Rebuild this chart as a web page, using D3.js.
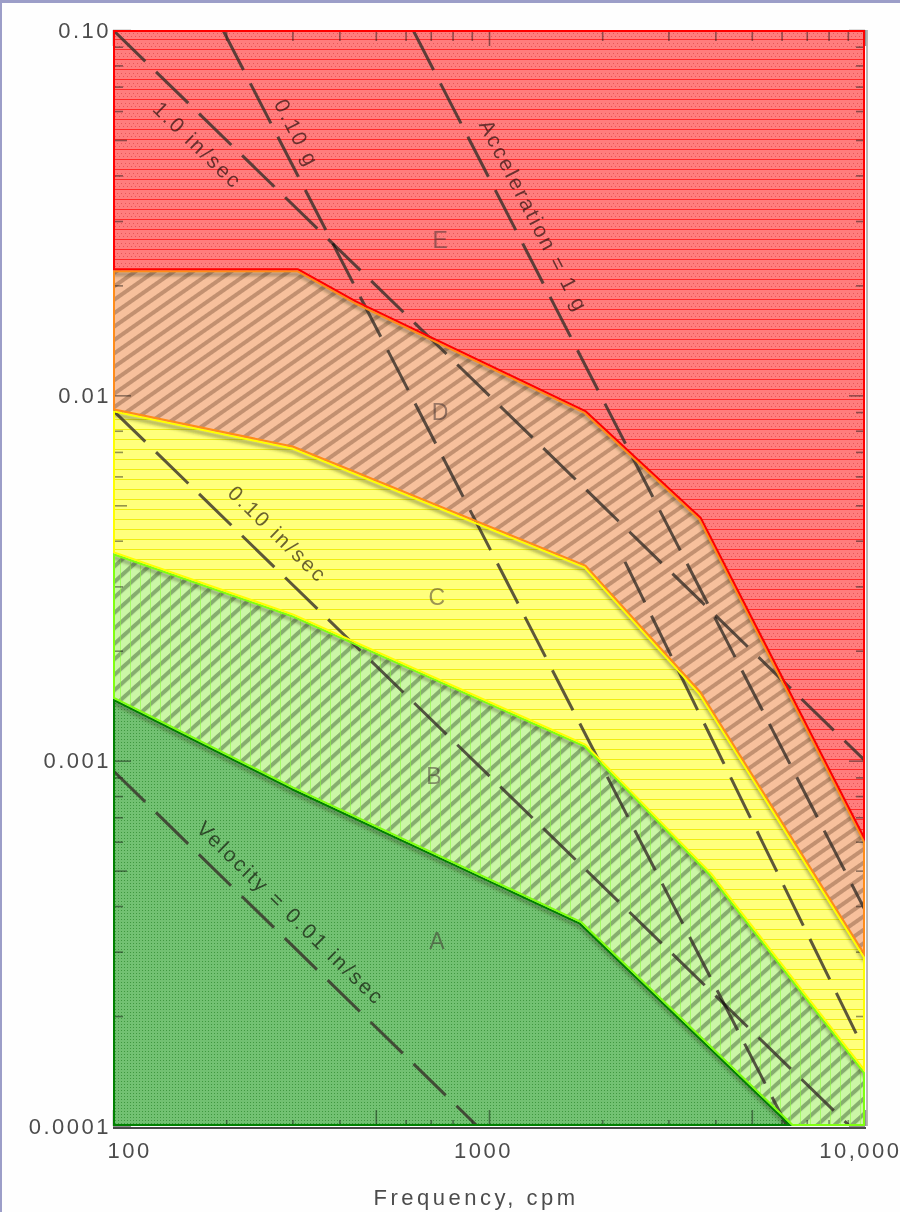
<!DOCTYPE html>
<meta charset="utf-8">
<style>
body { margin: 0; background: #fefefe; }
svg { display: block; font-family: "Liberation Sans", "DejaVu Sans", sans-serif; }
.axis text { fill: #4c4c4c; font-size: 22px; letter-spacing: 2.5px; }
.axis .tick line { stroke: #2a2a2a; stroke-width: 1.6; stroke-opacity: 0.5; mix-blend-mode: multiply; }
.guide { fill: none; stroke: #362e28; stroke-opacity: 0.8; stroke-width: 3; stroke-dasharray: 45,15; mix-blend-mode: multiply; }
.guide-label { fill: #3a2f2a; fill-opacity: 0.75; font-size: 21px; letter-spacing: 2.5px; mix-blend-mode: multiply; }
.zone-letter { fill: #3a2a2a; fill-opacity: 0.5; font-size: 23px; }
.title { fill: #4c4c4c; font-size: 22px; letter-spacing: 3.5px; }
</style>
<svg width="900" height="1212"></svg>
<script src="https://cdn.jsdelivr.net/npm/d3@7"></script>
<script>

// axes (frequency in cpm, displacement in inches)
var freqExtent = [100, 10000];
var dispExtent = [0.0001, 0.1];
var xMajorValues = [100, 1000, 10000];
var xMajorLabels = ["100", "1000", "10,000"];
var yMajorValues = [0.0001, 0.001, 0.01, 0.1];
var yMajorLabels = ["0.0001", "0.001", "0.01", "0.10"];

// zone boundaries: [cpm, displacement]
var edgeED = [[100, 0.022], [310, 0.022], [440, 0.018], [1800, 0.009], [3640, 0.0046], [10000, 0.0006]];
var edgeDC = [[100, 0.0091], [300, 0.0072], [1800, 0.0034], [3640, 0.00153], [10000, 0.00029]];
var edgeCB = [[100, 0.0037], [300, 0.0025], [1800, 0.0011], [3870, 0.00049], [10000, 0.00014]];
var edgeBA = [[100, 0.00148], [300, 0.00084], [1750, 0.00036], [6400, 0.0001]];

var zoneNames = ["A", "B", "C", "D", "E"];
var zoneLabelAt = [[727, 0.00032], [714, 0.00091], [727, 0.0028], [741, 0.009], [741, 0.0266]];

// constant velocity / acceleration lines (the last one is unlabeled on the chart)
var guideNames = ["Velocity = 0.01 in/sec", "0.10 in/sec", "1.0 in/sec", "0.10 g", "Acceleration = 1 g", ""];
var guideStart = [[100, 0.00094], [100, 0.0091], [100, 0.1], [196, 0.1], [628, 0.1], [2300, 0.0035]];
var guideEnd = [[930, 0.0001], [9100, 0.0001], [10000, 0.001], [6200, 0.0001], [10000, 0.00039], [9800, 0.000167]];

var svg = d3.select("svg"),
    width = +svg.attr("width"),
    height = +svg.attr("height");

var plotL = 113, plotR = 865, plotT = 30, plotB = 1126;

var x = d3.scaleLog().domain(freqExtent).range([plotL, plotR]);
var y = d3.scaleLog().domain(dispExtent).range([plotB, plotT]);

var line = d3.line().x(function(d) { return x(d[0]); }).y(function(d) { return y(d[1]); });
var outline = d3.line().x(function(d) { return x(d[0]); }).y(function(d) { return y(d[1]); }).curve(d3.curveLinearClosed);

// scanner edge
svg.append("rect").attr("width", width).attr("height", 3).attr("fill", "#9c9ec8");
svg.append("rect").attr("width", 2).attr("height", height).attr("fill", "#9c9ec8");

var defs = svg.append("defs");

function pattern(id, w, h, rot) {
  var p = defs.append("pattern")
      .attr("id", id)
      .attr("patternUnits", "userSpaceOnUse")
      .attr("width", w)
      .attr("height", h);
  if (rot) p.attr("patternTransform", "rotate(" + rot + ")");
  return p;
}

var pE = pattern("fillE", 4, 10);
pE.append("rect").attr("width", 4).attr("height", 10).attr("fill", "#ff7d7d");
pE.append("rect").attr("y", 9).attr("width", 4).attr("height", 1).attr("fill", "#ff2a2a");
pE.append("rect").attr("x", 1).attr("y", 3).attr("width", 1).attr("height", 1).attr("fill", "#e65555");
pE.append("rect").attr("x", 3).attr("y", 6).attr("width", 1).attr("height", 1).attr("fill", "#e65555");

var pD = pattern("fillD", 11, 11, -35);
pD.append("rect").attr("width", 11).attr("height", 11).attr("fill", "#f7c09c");
pD.append("rect").attr("y", 1).attr("width", 11).attr("height", 4).attr("fill", "#c29070");

var pC = pattern("fillC", 4, 10);
pC.append("rect").attr("width", 4).attr("height", 10).attr("fill", "#ffff7c");
pC.append("rect").attr("y", 9).attr("width", 4).attr("height", 1).attr("fill", "#eeee10");

var pB = pattern("fillB", 11.5, 11.5, -42);
pB.append("rect").attr("width", 11.5).attr("height", 11.5).attr("fill", "#cbf6a6");
pB.append("rect").attr("y", 1).attr("width", 11.5).attr("height", 4).attr("fill", "#86ad6e");

var pBv = pattern("linesB", 10, 10);
pBv.append("rect").attr("width", 1).attr("height", 10).attr("fill", "#8cff3c").attr("opacity", 0.6);

var pA = pattern("fillA", 3, 3);
pA.append("rect").attr("width", 3).attr("height", 3).attr("fill", "#72c172");
pA.append("rect").attr("x", 1).attr("y", 1).attr("width", 1).attr("height", 1).attr("fill", "#3f983f");

var soft = defs.append("filter").attr("id", "soft")
    .attr("x", "-2%").attr("y", "-2%").attr("width", "104%").attr("height", "104%");
soft.append("feGaussianBlur").attr("stdDeviation", 0.6);

var shade = defs.append("filter").attr("id", "shade")
    .attr("x", "-5%").attr("y", "-5%").attr("width", "110%").attr("height", "110%");
shade.append("feGaussianBlur").attr("stdDeviation", 1.5);

defs.append("clipPath").attr("id", "plotClip")
  .append("rect")
    .attr("x", plotL).attr("y", plotT)
    .attr("width", plotR - plotL).attr("height", plotB - plotT);

// zone polygons
var fMin = freqExtent[0], fMax = freqExtent[1], dMin = dispExtent[0], dMax = dispExtent[1];
var zonePolys = [
  edgeBA.concat([[fMin, dMin]]),
  edgeCB.concat([[fMax, dMin]], edgeBA.slice().reverse()),
  edgeDC.concat(edgeCB.slice().reverse()),
  edgeED.concat(edgeDC.slice().reverse()),
  [[fMin, dMax], [fMax, dMax]].concat(edgeED.slice().reverse())
];
var zoneStroke = { A: "#008000", B: "#80ff10", C: "#ffff00", D: "#ff8c1a", E: "#ff0000" };
var hatched = { B: true, D: true };

zonePolys.forEach(function(p, i) {
  defs.append("clipPath").attr("id", "clip" + zoneNames[i])
    .append("path").attr("d", outline(p));
});

var zones = svg.append("g");
zones.selectAll("path")
  .data(zonePolys)
  .enter().append("path")
    .attr("d", outline)
    .attr("fill", function(d, i) { return "url(#fill" + zoneNames[i] + ")"; })
    .attr("filter", function(d, i) { return hatched[zoneNames[i]] ? "url(#soft)" : null; });

svg.append("path")
    .attr("d", outline(zonePolys[1]))
    .attr("fill", "url(#linesB)");

// dark scan shadows just under each boundary
svg.append("g")
    .attr("clip-path", "url(#plotClip)")
  .selectAll("path")
  .data([edgeED, edgeDC, edgeCB, edgeBA])
  .enter().append("path")
    .attr("d", line)
    .attr("transform", "translate(0,4)")
    .attr("fill", "none")
    .attr("stroke", "#2e3010")
    .attr("stroke-opacity", 0.35)
    .attr("stroke-width", 4)
    .attr("filter", "url(#shade)")
    .style("mix-blend-mode", "multiply");

// axes
function isDecade(d) {
  var l = Math.log10(d);
  return Math.abs(l - Math.round(l)) < 1e-6;
}
function isFive(d) {
  var m = d / Math.pow(10, Math.floor(Math.log10(d) + 1e-9));
  return Math.abs(m - 5) < 1e-6;
}
function labelOf(values, labels) {
  return function(d) {
    for (var i = 0; i < values.length; i++) {
      if (Math.abs(Math.log10(values[i]) - Math.log10(d)) < 1e-6) return labels[i];
    }
    return "";
  };
}

var yLeft = svg.append("g")
    .attr("class", "axis")
    .attr("transform", "translate(" + plotL + ",0)")
    .call(d3.axisLeft(y).tickValues(y.ticks()).tickSize(-10).tickPadding(2)
      .tickFormat(labelOf(yMajorValues, yMajorLabels)));
yLeft.selectAll(".tick line").attr("x2", function(d) { return isDecade(d) ? 18 : isFive(d) ? 14 : 10; });

var yRight = svg.append("g")
    .attr("class", "axis")
    .attr("transform", "translate(" + plotR + ",0)")
    .call(d3.axisRight(y).tickValues(y.ticks()).tickSize(-10).tickFormat(""));
yRight.selectAll(".tick line").attr("x2", function(d) { return isDecade(d) ? -16 : -9; });

var xTop = svg.append("g")
    .attr("class", "axis")
    .attr("transform", "translate(0," + plotT + ")")
    .call(d3.axisTop(x).tickValues(x.ticks()).tickSize(-10).tickFormat(""));
xTop.selectAll(".tick line").attr("y2", function(d) { return isDecade(d) ? 16 : 11; });

var xBottom = svg.append("g")
    .attr("class", "axis")
    .attr("transform", "translate(0," + plotB + ")")
    .call(d3.axisBottom(x).tickValues(x.ticks()).tickSize(-6).tickPadding(16)
      .tickFormat(labelOf(xMajorValues, xMajorLabels)));
xBottom.selectAll(".tick line").attr("y2", function(d) { return (isDecade(d) || isFive(d)) ? -16 : -6; });
xBottom.selectAll(".tick text")
    .attr("text-anchor", function(d) { return d === fMin ? "start" : d === fMax ? "end" : "middle"; })
    .attr("x", function(d) { return d === fMin ? -6 : d === fMax ? 36 : -6; });

[yLeft, yRight, xTop, xBottom].forEach(function(g) { g.select(".domain").remove(); });

svg.append("line")
    .attr("x1", plotL).attr("x2", plotR + 1)
    .attr("y1", plotB + 2).attr("y2", plotB + 2)
    .attr("stroke", "#4a4a4a").attr("stroke-width", 2);
svg.append("line")
    .attr("x1", plotR + 2).attr("x2", plotR + 2)
    .attr("y1", plotT).attr("y2", plotB)
    .attr("stroke", "#a0a0a0").attr("stroke-width", 1.5);

// velocity and acceleration lines
var guides = svg.append("g").attr("clip-path", "url(#plotClip)");
guides.selectAll("path")
  .data(guideNames)
  .enter().append("path")
    .attr("class", "guide")
    .attr("d", function(d, i) { return line([guideStart[i], guideEnd[i]]); });

// zone outlines, each kept inside its own zone
svg.append("g").selectAll("path")
  .data(zonePolys)
  .enter().append("path")
    .attr("d", outline)
    .attr("fill", "none")
    .attr("stroke", function(d, i) { return zoneStroke[zoneNames[i]]; })
    .attr("stroke-width", 4)
    .attr("stroke-linejoin", "round")
    .attr("clip-path", function(d, i) { return "url(#clip" + zoneNames[i] + ")"; });

// labels along the guide lines
var guideLabelAt = [[291, 913], [278, 534], [198, 145], [297, 133], [534, 216]];
svg.append("g").selectAll("text")
  .data(guideNames.filter(function(d) { return d; }))
  .enter().append("text")
    .attr("class", "guide-label")
    .attr("text-anchor", "middle")
    .attr("dominant-baseline", "central")
    .attr("transform", function(d, i) {
      var a = Math.atan2(y(guideEnd[i][1]) - y(guideStart[i][1]), x(guideEnd[i][0]) - x(guideStart[i][0])) * 180 / Math.PI;
      return "translate(" + guideLabelAt[i][0] + "," + guideLabelAt[i][1] + ") rotate(" + a + ")";
    })
    .text(function(d) { return d; });

svg.append("g").selectAll("text")
  .data(zoneNames)
  .enter().append("text")
    .attr("class", "zone-letter")
    .attr("text-anchor", "middle")
    .attr("dominant-baseline", "central")
    .attr("x", function(d, i) { return x(zoneLabelAt[i][0]); })
    .attr("y", function(d, i) { return y(zoneLabelAt[i][1]); })
    .text(function(d) { return d; });

svg.append("text")
    .attr("class", "title")
    .attr("x", 476)
    .attr("y", 1205)
    .attr("text-anchor", "middle")
    .text("Frequency, cpm");

</script>
